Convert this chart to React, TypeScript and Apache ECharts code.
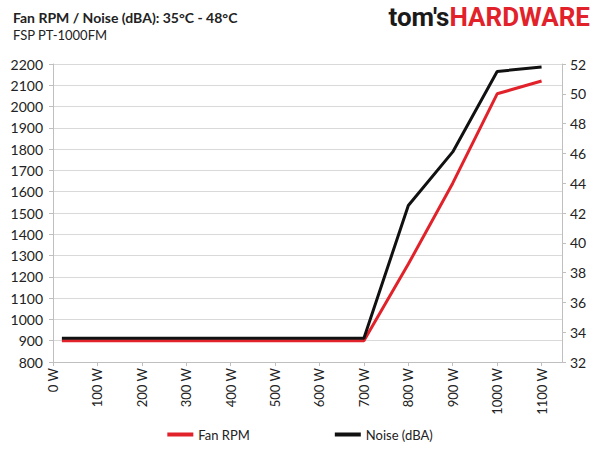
import React, { useEffect, useRef } from 'react'
import * as echarts from 'echarts'

// load levels (W) and readings
const loads = [20, 100, 200, 300, 400, 500, 600, 700, 800, 900, 1000, 1100]
const fanRpm = [900, 900, 900, 900, 900, 900, 900, 900, 1260, 1640, 2060, 2120]
const noiseDba = [33.6, 33.6, 33.6, 33.6, 33.6, 33.6, 33.6, 33.6, 42.5, 46.1, 51.5, 51.8]

const TITLE = 'Fan RPM / Noise (dBA): 35°C - 48°C'
const SUBTITLE = 'FSP PT-1000FM'
const RED = '#e2222a'
const BLACK = '#111111'
const FONT = 'Lato, "Noto Sans", sans-serif'

const App: React.FC = () => {
  const chartRef = useRef<HTMLDivElement>(null)

  useEffect(() => {
    if (!chartRef.current) return
    const chart = echarts.init(chartRef.current, undefined, { renderer: 'svg' })

    const axisLine = { lineStyle: { color: '#bfbfbf', width: 1 } }

    chart.setOption({
      animation: false,
      backgroundColor: '#ffffff',
      textStyle: { fontFamily: FONT },
      title: [
        {
          text: TITLE,
          left: 8,
          top: 5,
          textStyle: { fontSize: 14, fontWeight: 'bold', color: '#222', fontFamily: FONT },
        },
        {
          text: SUBTITLE,
          left: 8,
          top: 23,
          textStyle: { fontSize: 13, fontWeight: 'normal', color: '#222', fontFamily: FONT },
        },
      ],
      graphic: [
        {
          type: 'text',
          right: 10,
          top: 4,
          style: {
            text: "{a|tom's}{b|HARDWARE}",
            rich: {
              a: { fontSize: 26, fontWeight: 'bold', fill: '#1a1a1a', fontFamily: 'Roboto, sans-serif' },
              b: { fontSize: 26, fontWeight: 'bold', fill: RED, fontFamily: 'Roboto, sans-serif' },
            },
          },
        },
      ],
      legend: {
        bottom: 4,
        left: 'center',
        itemWidth: 26,
        itemHeight: 4,
        itemGap: 85,
        icon: 'rect',
        textStyle: { fontSize: 13, color: '#222', fontFamily: FONT },
        data: ['Fan RPM', 'Noise (dBA)'],
      },
      grid: { left: 53, right: 38, top: 64, bottom: 88 },
      xAxis: {
        type: 'value',
        min: 0,
        max: 1146,
        interval: 100,
        axisLine,
        axisTick: { show: true, length: 4, lineStyle: { color: '#bfbfbf' } },
        splitLine: { show: false },
        axisLabel: {
          rotate: 90,
          fontSize: 13,
          color: '#222',
          margin: 6,
          showMaxLabel: false,
          formatter: (v: number) => (v % 100 === 0 ? `${v} W` : ''),
        },
      },
      yAxis: [
        {
          type: 'value',
          min: 800,
          max: 2200,
          interval: 100,
          axisLine: { show: true, ...axisLine },
          axisTick: { show: true, length: 4, lineStyle: { color: '#bfbfbf' } },
          splitLine: { lineStyle: { color: '#d9d9d9', width: 1 } },
          axisLabel: { fontSize: 14, color: '#222', margin: 10, formatter: (v: number) => String(v) },
        },
        {
          type: 'value',
          min: 32,
          max: 52,
          interval: 2,
          position: 'right',
          axisLine: { show: true, ...axisLine },
          axisTick: { show: true, length: 4, lineStyle: { color: '#bfbfbf' } },
          splitLine: { show: false },
          axisLabel: { fontSize: 14, color: '#222', margin: 8, formatter: (v: number) => String(v) },
        },
      ],
      series: [
        {
          name: 'Fan RPM',
          type: 'line',
          yAxisIndex: 0,
          data: loads.map((x, i) => [x, fanRpm[i]]),
          symbol: 'none',
          lineStyle: { color: RED, width: 3 },
          itemStyle: { color: RED },
        },
        {
          name: 'Noise (dBA)',
          type: 'line',
          yAxisIndex: 1,
          data: loads.map((x, i) => [x, noiseDba[i]]),
          symbol: 'none',
          lineStyle: { color: BLACK, width: 3 },
          itemStyle: { color: BLACK },
        },
      ],
    })

    return () => {
      chart.dispose()
    }
  }, [])

  return (
    <div
      ref={chartRef}
      style={{ position: 'fixed', left: 0, top: 0, width: '600px', height: '450px' }}
    />
  )
}

export default App
